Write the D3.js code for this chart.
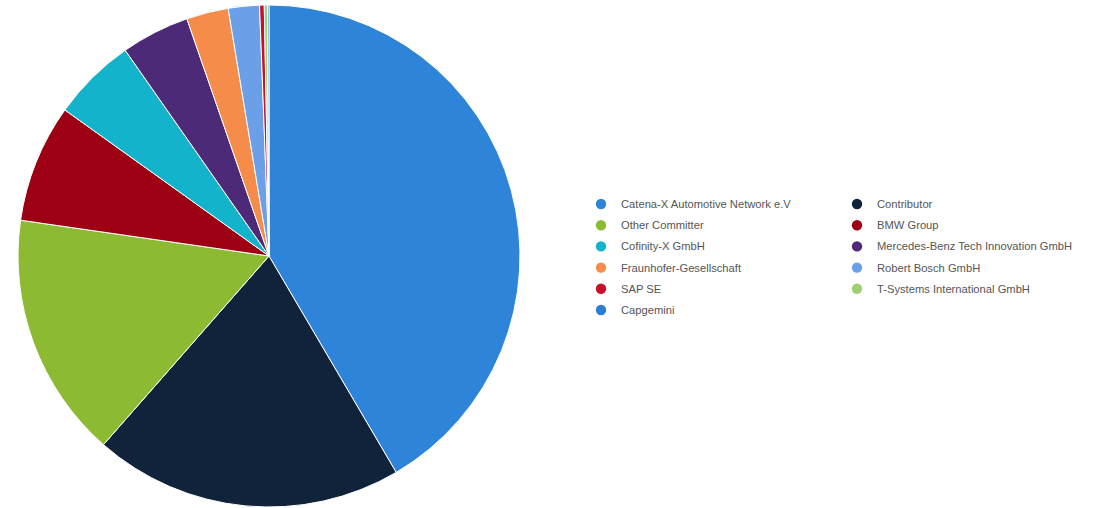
<!DOCTYPE html>
<html>
<head>
<meta charset="utf-8">
<script src="https://cdn.jsdelivr.net/npm/d3@7"></script>
<style>
html,body{margin:0;padding:0;background:#fff;}
svg{display:block;}
</style>
</head>
<body>
<svg id="chart" width="1102" height="508"></svg>
<script>
const categories = ["Catena-X Automotive Network e.V","Contributor","Other Committer","BMW Group","Cofinity-X GmbH","Mercedes-Benz Tech Innovation GmbH","Fraunhofer-Gesellschaft","Robert Bosch GmbH","SAP SE","T-Systems International GmbH","Capgemini"];
const values = [415,199,158,76,54,44,27,20,3,2,1];
const colors = ["#2e84d8","#11233a","#8cba33","#9c0012","#13b3cc","#4c2a78","#f68c49","#6b9fe8","#c8102e","#9fd06f","#2b7fd2"];

const svg = d3.select("#chart");
const cx = 269, cy = 256, r = 251;

const pie = d3.pie().sort(null).value(d => d.v);
const arc = d3.arc().innerRadius(0).outerRadius(r);
const data = categories.map((c,i)=>({name:c, v:values[i], color:colors[i]}));

const g = svg.append("g").attr("transform",`translate(${cx},${cy})`);
g.selectAll("path").data(pie(data)).join("path")
  .attr("d", arc)
  .attr("fill", d => d.data.color)
  .attr("stroke", "#fff")
  .attr("stroke-width", 1);

// legend: two columns, row-major
const colX = [601, 857];
const rowY = d3.scaleLinear().domain([0,1]).range([204, 225.2]);
const lg = svg.append("g");
data.forEach((d,i)=>{
  const col = i % 2, row = Math.floor(i/2);
  const y = rowY(row);
  lg.append("circle").attr("cx", colX[col]).attr("cy", y).attr("r", 5.2).attr("fill", d.color);
  lg.append("text").attr("x", colX[col]+20).attr("y", y).attr("dy","0.35em")
    .attr("font-family","Liberation Sans, Arial, sans-serif").attr("font-size", 11.2)
    .attr("fill","#555").text(d.name);
});
</script>
</body>
</html>
